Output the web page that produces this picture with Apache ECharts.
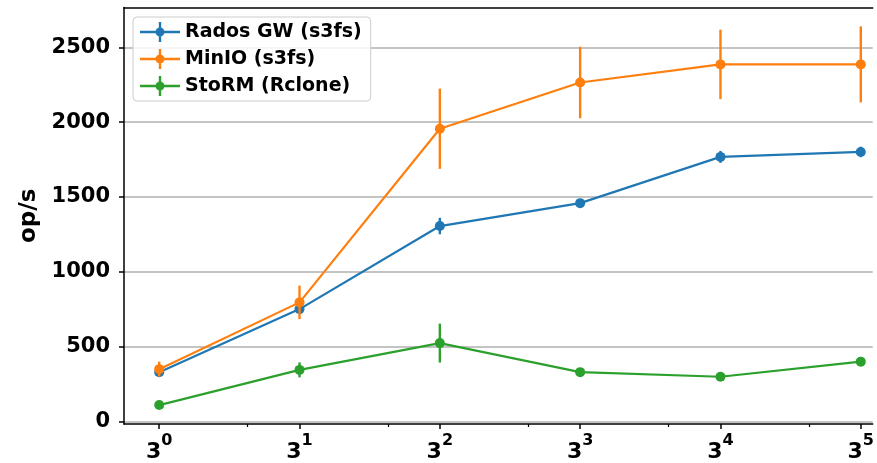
<!DOCTYPE html>
<html>
<head>
<meta charset="utf-8">
<script src="https://cdn.jsdelivr.net/npm/echarts@6/dist/echarts.min.js"></script>
<style>html,body{margin:0;padding:0;background:#fff}#c{width:877px;height:463px}</style>
</head>
<body>
<div id="c"></div>
<script>
// x positions (number of parallel clients, powers of 3)
const xValues = [1, 3, 9, 27, 81, 243];
const xTickExponents = ['0', '1', '2', '3', '4', '5'];
const xMinorTicks = [2, 6, 18, 54, 162];
const yTicks = [0, 500, 1000, 1500, 2000, 2500];

const seriesNames = ['Rados GW (s3fs)', 'MinIO (s3fs)', 'StoRM (Rclone)'];
const radosValues = [330, 751, 1306, 1459, 1768, 1801];
const radosErrors = [12, 25, 55, 12, 40, 35];
const minioValues = [350, 796, 1956, 2265, 2386, 2386];
const minioErrors = [50, 112, 268, 239, 232, 254];
const stormValues = [110, 345, 524, 330, 299, 400];
const stormErrors = [5, 50, 130, 10, 10, 12];

const colors = ['#1f77b4', '#ff7f0e', '#2ca02c'];
const FONT = 'DejaVu Sans';
const X_MIN = Math.pow(3, -0.251);
const X_MAX = Math.pow(3, 5.085);

const chart = echarts.init(document.getElementById('c'), null, {renderer: 'canvas'});

function lineSeries(name, vals, color, z) {
  return {
    name: name, type: 'line', z: z,
    data: xValues.map((x, i) => [x, vals[i]]),
    symbol: 'circle', symbolSize: 10, showSymbol: true,
    itemStyle: {color: color},
    lineStyle: {color: color, width: 2.2},
    emphasis: {disabled: true},
    animation: false
  };
}
function errSeries(vals, errs, color, z) {
  return {
    type: 'custom', z: z,
    data: xValues.map((x, i) => [x, vals[i] - errs[i], vals[i] + errs[i]]),
    encode: {x: 0, y: [1, 2]},
    renderItem: function (params, api) {
      const x = api.value(0);
      const p1 = api.coord([x, api.value(1)]);
      const p2 = api.coord([x, api.value(2)]);
      return {type: 'line', shape: {x1: p1[0], y1: p1[1], x2: p2[0], y2: p2[1]},
              style: {stroke: color, lineWidth: 2.4}};
    },
    silent: true,
    animation: false
  };
}

const legendIcon = 'path://M0,8.8h40v2.4h-40z M18.8,0h2.4v20h-2.4z M15.5,10a4.5,4.5 0 1,1 9,0a4.5,4.5 0 1,1 -9,0z';

const option = {
  animation: false,
  backgroundColor: '#ffffff',
  grid: {left: 124, top: 7.5, right: 0, bottom: 35, show: false},
  legend: {
    left: 133, top: 17, orient: 'vertical',
    data: seriesNames.map((n, i) => ({name: n, icon: legendIcon, itemStyle: {color: colors[i]}})),
    itemWidth: 40, itemHeight: 20, itemGap: 7, itemTextGap: 22,
    padding: [5, 9, 5, 7],
    backgroundColor: 'rgba(255,255,255,0.85)',
    borderColor: '#cccccc', borderWidth: 1, borderRadius: 4,
    textStyle: {color: '#000', fontWeight: 'bold', fontSize: 19, fontFamily: FONT},
    selectedMode: false
  },
  xAxis: [{
    type: 'log', logBase: 3, min: X_MIN, max: X_MAX,
    axisLine: {show: true, onZero: false, lineStyle: {color: '#000', width: 1.5}},
    axisTick: {show: true, customValues: xValues, length: 5, lineStyle: {color: '#000', width: 1.5}},
    axisLabel: {
      customValues: xValues, margin: 9,
      formatter: function (v) {
        const i = xValues.indexOf(Math.round(v));
        const e = i >= 0 ? xTickExponents[i] : '';
        return '{b|3}{s|' + e + '}';
      },
      rich: {
        b: {fontSize: 22, fontWeight: 'bold', fontFamily: FONT, color: '#000', lineHeight: 30, verticalAlign: 'bottom'},
        s: {fontSize: 16, fontWeight: 'bold', fontFamily: FONT, color: '#000', lineHeight: 16, verticalAlign: 'top'}
      }
    },
    splitLine: {show: false}
  }, {
    type: 'log', logBase: 3, position: 'bottom', min: X_MIN, max: X_MAX,
    axisLine: {show: false, onZero: false},
    axisTick: {show: true, customValues: xMinorTicks, length: 3, lineStyle: {color: '#000', width: 1.2}},
    axisLabel: {show: false},
    splitLine: {show: false}
  }, {
    type: 'log', logBase: 3, position: 'top', min: X_MIN, max: X_MAX,
    axisLine: {show: true, onZero: false, lineStyle: {color: '#000', width: 1.5}},
    axisTick: {show: false},
    axisLabel: {show: false},
    splitLine: {show: false}
  }],
  yAxis: {
    type: 'value', min: -16.5, max: 2766,
    name: 'op/s', nameLocation: 'middle', nameRotate: 90, nameGap: 71,
    nameTextStyle: {fontSize: 23, fontWeight: 'bold', fontFamily: FONT, color: '#000'},
    axisLine: {show: true, onZero: false, lineStyle: {color: '#000', width: 1.5}},
    axisTick: {show: true, customValues: yTicks, length: 5, lineStyle: {color: '#000', width: 1.5}},
    axisLabel: {customValues: yTicks, margin: 14, fontSize: 21, fontWeight: 'bold', fontFamily: FONT, color: '#000',
                formatter: function (v) { return String(v); }},
    splitLine: {show: true, lineStyle: {color: '#b0b0b0', width: 1.5}}
  },
  series: [
    lineSeries(seriesNames[0], radosValues, colors[0], 3),
    errSeries(radosValues, radosErrors, colors[0], 3),
    lineSeries(seriesNames[1], minioValues, colors[1], 4),
    errSeries(minioValues, minioErrors, colors[1], 4),
    lineSeries(seriesNames[2], stormValues, colors[2], 5),
    errSeries(stormValues, stormErrors, colors[2], 5)
  ]
};
chart.setOption(option);
</script>
</body>
</html>
